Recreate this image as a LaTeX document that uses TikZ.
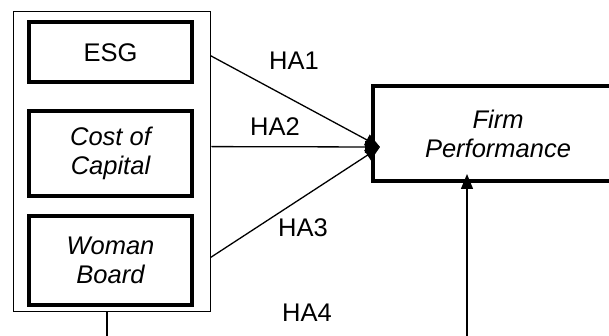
\documentclass[tikz,border=0pt]{standalone}
\usepackage{fontspec}
\setmainfont{Liberation Sans}
\usetikzlibrary{arrows.meta,calc}
\begin{document}
\begin{tikzpicture}[x=1pt,y=-1pt,
  txt/.style={font=\fontsize{25.5}{29}\selectfont},
  varbox/.style={draw,line width=4pt,inner sep=0pt,align=center,txt},
  conn/.style={line width=1.3pt,-{Triangle[length=15pt,width=12pt]}},
  lab/.style={txt,inner sep=0pt}]
\useasboundingbox (0,0) rectangle (609,336);
\node[draw,line width=0.8pt,minimum width=197pt,minimum height=300pt,inner sep=0pt] (grp) at (111.5,161) {};
\node[varbox,minimum width=163pt,minimum height=60pt] (esg) at (110.5,52.5) {ESG};
\node[varbox,minimum width=163pt,minimum height=85pt] (coc) at (110.5,153.5) {\itshape Cost of\\\itshape Capital};
\node[varbox,minimum width=163pt,minimum height=89pt] (wb) at (110.5,260.5) {\itshape Woman\\\itshape Board};
\node[varbox,minimum width=250pt,minimum height=95pt] (firm) at (498,133.5) {\itshape Firm\\\itshape Performance};
\coordinate (tgt) at (380,147);
\draw[conn] ($(grp.north east)+(0,45)$) -- (tgt);
\draw[conn] ($(grp.north east)+(1,136)$) -- (tgt);
\draw[conn] ($(grp.north east)+(0,247)$) -- (tgt);
\coordinate (bot1) at (107,337);
\coordinate (bot2) at (467,337);
\draw[line width=1.3pt] (grp.south -| bot1) -- (bot1);
\draw[conn] (bot2) -- (bot2 |- 0,174);
\node[lab] (ha1) at (294,61) {HA1};
\node[lab] (ha2) at (275,127) {HA2};
\node[lab] (ha3) at (303,228) {HA3};
\node[lab] (ha4) at (307,313) {HA4};
\end{tikzpicture}
\end{document}
